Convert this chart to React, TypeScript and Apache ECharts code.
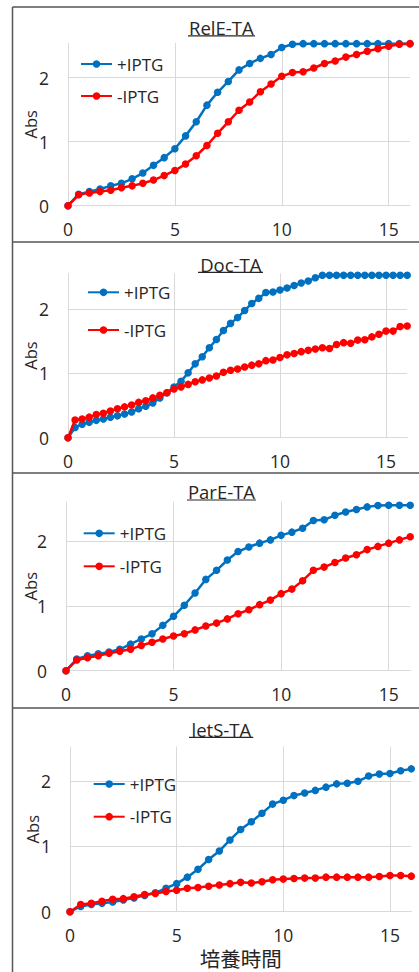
import React, { useEffect, useRef } from 'react';
import * as echarts from 'echarts';

// ---- data ----
const halfHours = [0, 0.5, 1, 1.5, 2, 2.5, 3, 3.5, 4, 4.5, 5, 5.5, 6, 6.5, 7, 7.5, 8, 8.5, 9, 9.5, 10, 10.5, 11, 11.5, 12, 12.5, 13, 13.5, 14, 14.5, 15, 15.5, 16];
const thirdHours = [0, 0.333, 0.667, 1, 1.333, 1.667, 2, 2.333, 2.667, 3, 3.333, 3.667, 4, 4.333, 4.667, 5, 5.333, 5.667, 6, 6.333, 6.667, 7, 7.333, 7.667, 8, 8.333, 8.667, 9, 9.333, 9.667, 10, 10.333, 10.667, 11, 11.333, 11.667, 12, 12.333, 12.667, 13, 13.333, 13.667, 14, 14.333, 14.667, 15, 15.333, 15.667, 16];

const panelTitles = ['RelE-TA', 'Doc-TA', 'ParE-TA', 'letS-TA'];
const seriesNames = ['+IPTG', '-IPTG'];
const xTickValues = [0, 5, 10, 15];
const yTickValues = [0, 1, 2];
const xAxisTitle = '培養時間';
const yAxisTitle = 'Abs';

const relEPlus = [0, 0.18, 0.22, 0.26, 0.31, 0.35, 0.42, 0.51, 0.63, 0.75, 0.89, 1.09, 1.31, 1.57, 1.77, 1.94, 2.12, 2.22, 2.30, 2.36, 2.47, 2.52, 2.53, 2.53, 2.53, 2.53, 2.53, 2.53, 2.53, 2.53, 2.53, 2.53, 2.53];
const relEMinus = [0, 0.17, 0.20, 0.22, 0.24, 0.28, 0.31, 0.35, 0.40, 0.47, 0.55, 0.65, 0.78, 0.94, 1.13, 1.31, 1.49, 1.62, 1.78, 1.90, 2.02, 2.08, 2.09, 2.15, 2.22, 2.26, 2.32, 2.36, 2.41, 2.45, 2.49, 2.52, 2.53];

const docPlus = [0, 0.16, 0.21, 0.24, 0.27, 0.29, 0.32, 0.34, 0.37, 0.40, 0.45, 0.49, 0.54, 0.62, 0.70, 0.79, 0.88, 1.01, 1.15, 1.26, 1.40, 1.53, 1.67, 1.78, 1.87, 1.98, 2.09, 2.17, 2.26, 2.27, 2.30, 2.33, 2.37, 2.41, 2.44, 2.49, 2.53, 2.53, 2.53, 2.53, 2.53, 2.53, 2.53, 2.53, 2.53, 2.53, 2.53, 2.53, 2.53];
const docMinus = [0, 0.275, 0.29, 0.32, 0.36, 0.38, 0.415, 0.45, 0.48, 0.51, 0.55, 0.575, 0.62, 0.66, 0.70, 0.76, 0.79, 0.83, 0.87, 0.90, 0.93, 0.96, 1.02, 1.05, 1.07, 1.10, 1.13, 1.15, 1.20, 1.21, 1.25, 1.29, 1.31, 1.34, 1.36, 1.38, 1.40, 1.39, 1.45, 1.48, 1.47, 1.52, 1.525, 1.57, 1.61, 1.66, 1.66, 1.73, 1.74];

const parEPlus = [0, 0.18, 0.23, 0.26, 0.29, 0.33, 0.41, 0.49, 0.57, 0.70, 0.84, 1.01, 1.20, 1.41, 1.55, 1.71, 1.84, 1.91, 1.97, 2.02, 2.09, 2.14, 2.20, 2.32, 2.33, 2.40, 2.45, 2.49, 2.53, 2.55, 2.555, 2.555, 2.555];
const parEMinus = [0, 0.165, 0.20, 0.23, 0.27, 0.30, 0.33, 0.39, 0.44, 0.49, 0.535, 0.57, 0.63, 0.69, 0.735, 0.80, 0.88, 0.94, 1.02, 1.09, 1.19, 1.26, 1.39, 1.55, 1.60, 1.67, 1.74, 1.79, 1.87, 1.92, 1.97, 2.02, 2.07];

const letSPlus = [0, 0.08, 0.11, 0.13, 0.15, 0.18, 0.21, 0.25, 0.29, 0.36, 0.43, 0.53, 0.65, 0.80, 0.93, 1.10, 1.26, 1.38, 1.51, 1.65, 1.71, 1.78, 1.82, 1.86, 1.91, 1.96, 1.97, 2.00, 2.08, 2.11, 2.12, 2.16, 2.19];
const letSMinus = [0, 0.11, 0.13, 0.16, 0.19, 0.20, 0.23, 0.265, 0.28, 0.31, 0.33, 0.36, 0.37, 0.39, 0.41, 0.43, 0.45, 0.44, 0.46, 0.49, 0.50, 0.51, 0.515, 0.515, 0.53, 0.53, 0.53, 0.53, 0.53, 0.54, 0.555, 0.555, 0.545];

const panelTimes = [halfHours, thirdHours, halfHours, halfHours];
const panelPlus = [relEPlus, docPlus, parEPlus, letSPlus];
const panelMinus = [relEMinus, docMinus, parEMinus, letSMinus];
const yMax = [2.54, 2.56, 2.61, 2.53];
const xMax = 16;

// ---- layout (pixels) ----
const gridBoxes = [
  { left: 68, top: 43, width: 342, height: 162.7 },
  { left: 68, top: 273.3, width: 339.2, height: 164.4 },
  { left: 66, top: 501.7, width: 344.2, height: 169 },
  { left: 70, top: 746.7, width: 341.3, height: 165 },
];
const titlePos = [
  { x: 221.3, y: 27.5, ul: [188, 255, 35.8] },
  { x: 230.8, y: 264, ul: [198, 263, 272.3] },
  { x: 221.5, y: 491.7, ul: [187, 256, 500] },
  { x: 221.3, y: 729, ul: [189, 253.3, 737.3] },
];
const legendPos = [
  { left: 80, top: 55, gap: 14 },
  { left: 87, top: 283.3, gap: 19.7 },
  { left: 82.7, top: 524.3, gap: 15 },
  { left: 92.7, top: 775, gap: 14.7 },
];
const yNameGaps = [29, 29, 27, 29];
const dividers = [242, 473, 708];

const FONT = "'Open Sans', 'Noto Sans CJK JP', sans-serif";
const TEXT = '#262626';
const GRID = '#d9d9d9';
const BLUE = '#0070C0';
const RED = '#FF0000';
const BORDER = '#555555';

function buildOption() {
  const grid: any[] = [];
  const xAxis: any[] = [];
  const yAxis: any[] = [];
  const series: any[] = [];
  const title: any[] = [];
  const legend: any[] = [];
  const graphic: any[] = [];

  for (let i = 0; i < 4; i++) {
    grid.push({ ...gridBoxes[i], containLabel: false, outerBoundsMode: 'none' });
    xAxis.push({
      type: 'value',
      gridIndex: i,
      min: 0,
      max: xMax,
      interval: 5,
      axisLine: { show: true, lineStyle: { color: GRID, width: 1 } },
      axisTick: { show: false },
      splitLine: { show: true, showMaxLine: false, lineStyle: { color: GRID, width: 1 } },
      axisLabel: {
        show: true,
        showMaxLabel: false,
        margin: 15,
        fontSize: 17.5,
        color: TEXT,
        fontFamily: FONT,
        formatter: (v: number) => (xTickValues.indexOf(v) >= 0 ? String(v) : ''),
      },
      name: i === 3 ? xAxisTitle : '',
      nameLocation: 'middle',
      nameGap: 37,
      nameMoveOverlap: false,
      nameTextStyle: { fontSize: 20.5, color: TEXT, fontFamily: FONT },
    });
    yAxis.push({
      type: 'value',
      gridIndex: i,
      min: 0,
      max: yMax[i],
      interval: 1,
      axisLine: { show: false },
      axisTick: { show: false },
      splitLine: { show: true, showMaxLine: false, lineStyle: { color: GRID, width: 1 } },
      axisLabel: {
        show: true,
        showMaxLabel: false,
        margin: 19,
        fontSize: 17.5,
        color: TEXT,
        fontFamily: FONT,
        formatter: (v: number) => (yTickValues.indexOf(v) >= 0 ? String(v) : ''),
      },
      name: yAxisTitle,
      nameLocation: 'middle',
      nameGap: yNameGaps[i],
      nameMoveOverlap: false,
      nameTextStyle: { fontSize: 16.5, color: TEXT, fontFamily: FONT },
    });
    const times = panelTimes[i];
    const sets = [panelPlus[i], panelMinus[i]];
    const colors = [BLUE, RED];
    for (let s = 0; s < 2; s++) {
      series.push({
        type: 'line',
        name: seriesNames[s],
        xAxisIndex: i,
        yAxisIndex: i,
        data: sets[s].map((v, k) => [times[k], v]),
        symbol: 'circle',
        symbolSize: 7.5,
        showAllSymbol: true,
        clip: false,
        z: 2 + s,
        lineStyle: { color: colors[s], width: 2.5 },
        itemStyle: { color: colors[s] },
        emphasis: { disabled: true },
      });
    }
    title.push({
      text: panelTitles[i],
      left: titlePos[i].x,
      top: titlePos[i].y,
      textAlign: 'center',
      textVerticalAlign: 'middle',
      padding: 0,
      textStyle: { fontSize: 18.5, fontWeight: 'normal', color: TEXT, fontFamily: FONT },
    });
    const ul = titlePos[i].ul;
    graphic.push({
      type: 'line',
      shape: { x1: ul[0], y1: ul[2], x2: ul[1], y2: ul[2] },
      style: { stroke: TEXT, lineWidth: 1.2 },
      silent: true,
    });
    legend.push({
      data: seriesNames,
      orient: 'vertical',
      left: legendPos[i].left,
      top: legendPos[i].top,
      itemGap: legendPos[i].gap,
      itemWidth: 31,
      itemHeight: 9.5,
      padding: 0,
      selectedMode: false,
      textStyle: { fontSize: 17, color: TEXT, fontFamily: FONT, lineHeight: 18 },
    });
  }

  // panel borders
  graphic.push({
    type: 'line',
    shape: { x1: 12.5, y1: 7, x2: 12.5, y2: 972 },
    style: { stroke: BORDER, lineWidth: 1.5 },
    silent: true,
  });
  graphic.push({
    type: 'line',
    shape: { x1: 12.5, y1: 7, x2: 419, y2: 7 },
    style: { stroke: BORDER, lineWidth: 1.5 },
    silent: true,
  });
  dividers.forEach((y) => {
    graphic.push({
      type: 'line',
      shape: { x1: 12.5, y1: y, x2: 419, y2: y },
      style: { stroke: BORDER, lineWidth: 1.5 },
      silent: true,
    });
  });

  return {
    animation: false,
    backgroundColor: '#ffffff',
    textStyle: { fontFamily: FONT },
    grid,
    xAxis,
    yAxis,
    series,
    title,
    legend,
    graphic,
  };
}

export default function App() {
  const ref = useRef<HTMLDivElement>(null);
  useEffect(() => {
    if (!ref.current) return;
    const chart = echarts.init(ref.current, undefined, { renderer: 'svg' });
    chart.setOption(buildOption() as any);
    return () => chart.dispose();
  }, []);
  return (
    <div
      ref={ref}
      style={{ position: 'absolute', left: 0, top: 0, width: 419, height: 972, background: '#fff' }}
    />
  );
}
